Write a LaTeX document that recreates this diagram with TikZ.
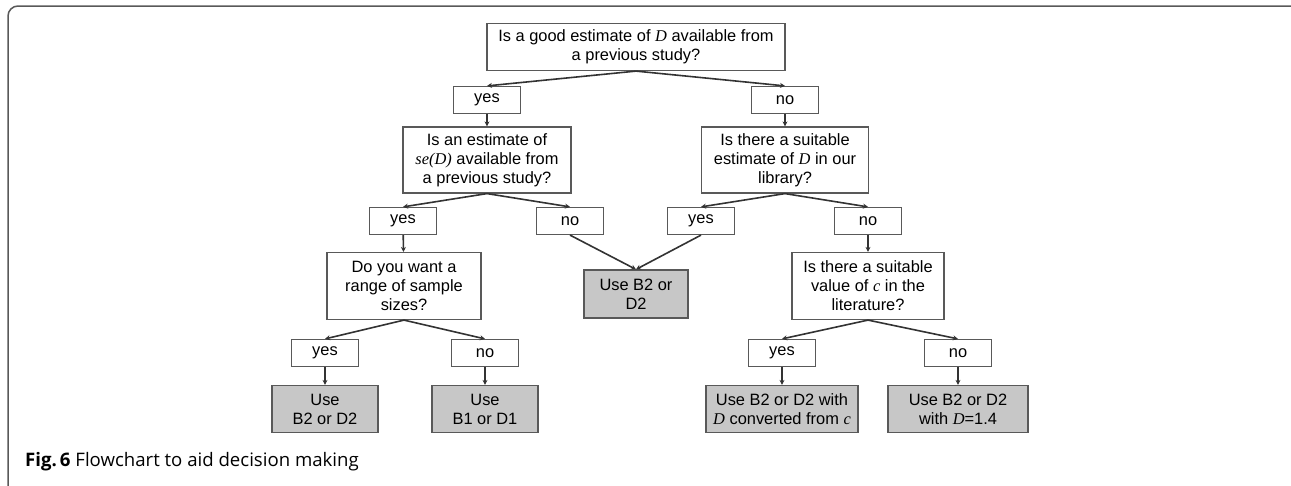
\documentclass[tikz,border=0pt]{standalone}
\usepackage{fontspec}
\setmainfont{Liberation Sans}
\newfontfamily\tms{Liberation Serif}
\newfontfamily\capfont{Open Sans}
\usetikzlibrary{arrows.meta}
\newcommand{\mi}[1]{{\tms\itshape #1}}

\begin{document}
\begin{tikzpicture}[x=1pt, y=-1pt,
    qbox/.style={draw=black!65, line width=1.2pt, fill=white, align=center, inner sep=2pt,
      font=\fontsize{16.4}{19}\selectfont},
    ans/.style={qbox, minimum width=67pt, minimum height=27pt},
    endbox/.style={qbox, fill=black!22},
    arr/.style={draw=black!80, line width=1.6pt, -{Stealth[length=5pt,width=5pt]}}]
  \useasboundingbox (0,0) rectangle (1291,485);
  \draw[black!65, line width=1.5pt, rounded corners=10pt] (1291,6) -- (8,6) -- (8,486);

  % questions
  \node[qbox, minimum width=298pt, minimum height=47pt] (q1) at (636,47) {Is a good estimate of \mi{D} available from\\a previous study?};
  \node[ans] (y1) at (487,100) {yes};
  \node[ans] (n1) at (785,100) {no};
  \node[qbox, minimum width=168pt, minimum height=66pt] (q2) at (487,160) {Is an estimate of\\\mi{se(D)} available from\\a previous study?};
  \node[qbox, minimum width=167pt, minimum height=66pt] (q3) at (785,160) {Is there a suitable\\estimate of \mi{D} in our\\library?};
  \node[ans] (y2) at (403,221) {yes};
  \node[ans] (n2) at (570,221) {no};
  \node[ans] (y3) at (701,221) {yes};
  \node[ans] (n3) at (868,221) {no};
  \node[qbox, minimum width=154pt, minimum height=67pt] (q4) at (404,286) {Do you want a\\range of sample\\sizes?};
  \node[endbox, minimum width=104pt, minimum height=48pt] (e1) at (636,294) {Use B2 or\\D2};
  \node[qbox, minimum width=152pt, minimum height=67pt] (q5) at (868,286) {Is there a suitable\\value of \mi{c} in the\\literature?};
  \node[ans] (y4) at (325,353) {yes};
  \node[ans] (n4) at (485,353) {no};
  \node[ans] (y5) at (782,353) {yes};
  \node[ans] (n5) at (958,353) {no};

  % results
  \node[endbox, minimum width=106pt, minimum height=47pt] (e2) at (325,409) {Use\\B2 or D2};
  \node[endbox, minimum width=106pt, minimum height=47pt] (e3) at (485,409) {Use\\B1 or D1};
  \node[endbox, minimum width=152pt, minimum height=47pt] (e4) at (782,409) {Use B2 or D2 with\\\mi{D} converted from \mi{c}};
  \node[endbox, minimum width=140pt, minimum height=47pt] (e5) at (958,409) {Use B2 or D2\\with \mi{D}=1.4};

  \draw[arr] (q1.south) -- (y1.north);
  \draw[arr] (q1.south) -- (n1.north);
  \draw[arr] (y1) -- (q2);
  \draw[arr] (n1) -- (q3);
  \draw[arr] (q2.south) -- (y2.north);
  \draw[arr] (q2.south) -- (n2.north);
  \draw[arr] (q3.south) -- (y3.north);
  \draw[arr] (q3.south) -- (n3.north);
  \draw[arr] (y2) -- (q4);
  \draw[arr] (n2.south) -- (e1.north);
  \draw[arr] (y3.south) -- (e1.north);
  \draw[arr] (n3) -- (q5);
  \draw[arr] (q4.south) -- (y4.north);
  \draw[arr] (q4.south) -- (n4.north);
  \draw[arr] (q5.south) -- (y5.north);
  \draw[arr] (q5.south) -- (n5.north);
  \draw[arr] (y4) -- (e2);
  \draw[arr] (n4) -- (e3);
  \draw[arr] (y5) -- (e4);
  \draw[arr] (n5) -- (e5);

  \node[anchor=west, inner sep=0pt, font=\capfont\fontsize{18.6}{22}\selectfont] (cap) at (25,462)
    {\textbf{Fig.\,6} Flowchart to aid decision making};
\end{tikzpicture}
\end{document}
